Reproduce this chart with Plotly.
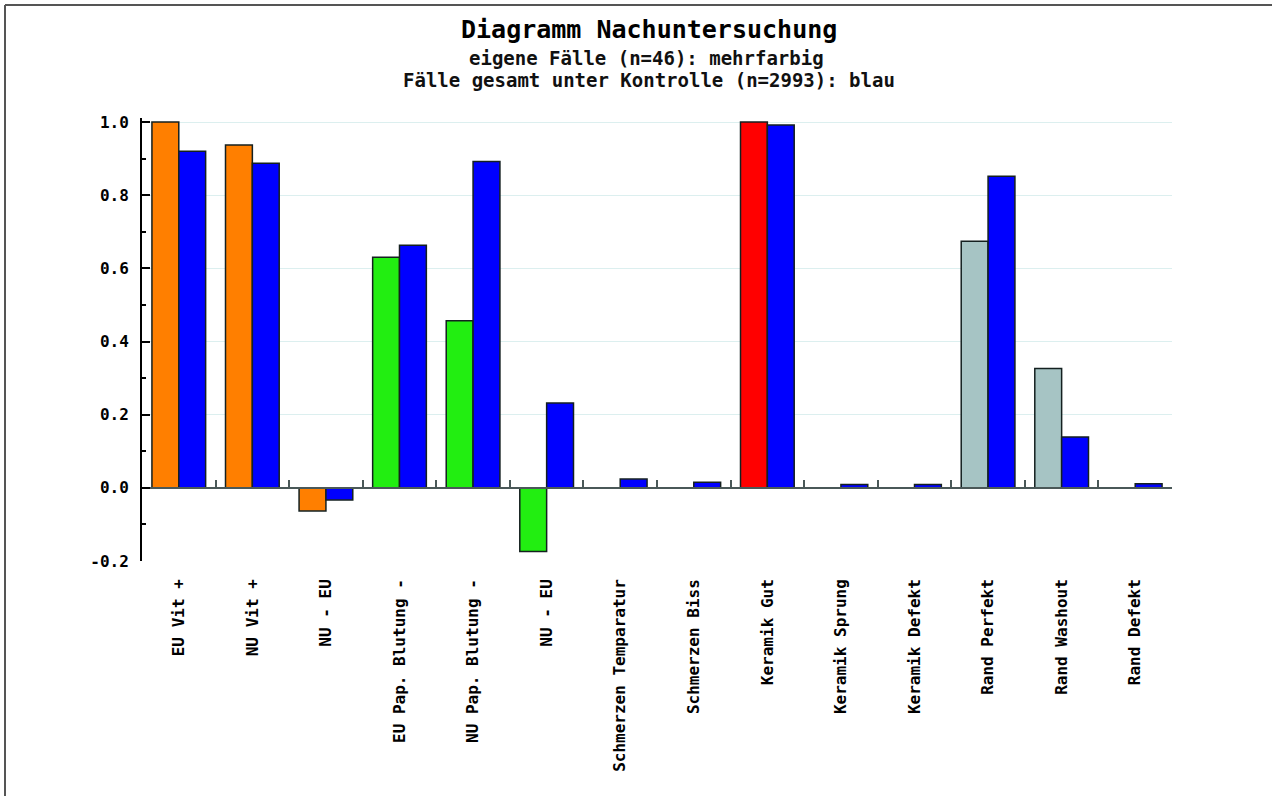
import plotly.graph_objects as go

categories = ["EU Vit +", "NU Vit +", "NU - EU", "EU Pap. Blutung -", "NU Pap. Blutung -",
              "NU - EU", "Schmerzen Temparatur", "Schmerzen Biss", "Keramik Gut",
              "Keramik Sprung", "Keramik Defekt", "Rand Perfekt", "Rand Washout", "Rand Defekt"]
own_values = [1.0, 0.937, -0.063, 0.63, 0.457, -0.174, 0, 0, 1.0, 0, 0, 0.674, 0.326, 0]
total_values = [0.92, 0.887, -0.033, 0.663, 0.892, 0.232, 0.024, 0.015, 0.992, 0.009, 0.009, 0.852, 0.139, 0.011]
own_colors = ["#FF7F00", "#FF7F00", "#FF7F00", "#22EE11", "#22EE11", "#22EE11",
              "#22EE11", "#22EE11", "#FF0000", "#FF0000", "#FF0000", "#A6C4C4", "#A6C4C4", "#A6C4C4"]
y_ticks = [-0.2, 0.0, 0.2, 0.4, 0.6, 0.8, 1.0]
title = "Diagramm Nachuntersuchung"
subtitle1 = "eigene Fälle (n=46): mehrfarbig"
subtitle2 = "Fälle gesamt unter Kontrolle (n=2993): blau"

MONO = "DejaVu Sans Mono"
idx = list(range(len(categories)))
y_lo, y_hi = -0.2, 1.011

# plot area geometry in pixels
L, R, T, B = 142, 100, 118, 235
W, H = 1272, 796
pw, ph = W - L - R, H - T - B


def px_x(p):
    return (p - L) / pw


def px_y(p):
    return (H - B - p) / ph


fig = go.Figure()
fig.add_trace(go.Bar(x=idx, y=own_values, marker=dict(color=own_colors, line=dict(color="#142020", width=1.5)),
                     name="eigene Fälle", showlegend=False, hoverinfo="x+y"))
fig.add_trace(go.Bar(x=idx, y=total_values, marker=dict(color="#0000FF", line=dict(color="#142020", width=1.5)),
                     name="gesamt", showlegend=False, hoverinfo="x+y"))
# helper trace so the zero-line axis is drawn
fig.add_trace(go.Scatter(x=[None], y=[None], xaxis="x2", yaxis="y", showlegend=False, hoverinfo="skip"))

boundaries = [i + 0.5 for i in idx]

fig.update_layout(
    width=W, height=H,
    margin=dict(l=L, r=R, t=T, b=B),
    paper_bgcolor="white", plot_bgcolor="white",
    barmode="group", bargap=0.27, bargroupgap=0,
    xaxis=dict(range=[-0.5, len(categories) - 0.5], tickmode="array", tickvals=idx, ticktext=categories,
               tickangle=-90, showgrid=False, zeroline=False, showline=False, ticks="",
               ticklabelstandoff=14,
               tickfont=dict(family=MONO, size=16, color="black", weight="bold")),
    xaxis2=dict(range=[-0.5, len(categories) - 0.5], overlaying="x", anchor="free",
                position=(0 - y_lo) / (y_hi - y_lo), side="bottom",
                tickmode="array", tickvals=boundaries, showticklabels=False,
                ticks="inside", ticklen=7, tickwidth=2, tickcolor="#4a5858",
                showline=True, linecolor="#4a5858", linewidth=2,
                showgrid=False, zeroline=False),
    yaxis=dict(range=[y_lo, y_hi], tickmode="array", tickvals=y_ticks,
               ticktext=[f"{v:.1f}" for v in y_ticks],
               ticks="inside", ticklen=8, tickwidth=2, tickcolor="black",
               showline=True, linecolor="black", linewidth=2,
               showgrid=True, gridcolor="#dcefef", gridwidth=1, zeroline=False,
               minor=dict(tickmode="array", tickvals=[-0.1, 0.1, 0.3, 0.5, 0.7, 0.9],
                          ticks="inside", ticklen=4, tickwidth=2, tickcolor="black", showgrid=False),
               ticklabelstandoff=8,
               tickfont=dict(family=MONO, size=16, color="black", weight="bold")),
    annotations=[
        dict(text="<b>" + title + "</b>", xref="paper", yref="paper", x=px_x(649), y=px_y(29),
             showarrow=False, xanchor="center", yanchor="middle",
             font=dict(family=MONO, size=25, color="black")),
        dict(text="<b>" + subtitle1 + "</b>", xref="paper", yref="paper", x=px_x(646), y=px_y(58),
             showarrow=False, xanchor="center", yanchor="middle",
             font=dict(family=MONO, size=19, color="#111111")),
        dict(text="<b>" + subtitle2 + "</b>", xref="paper", yref="paper", x=px_x(649), y=px_y(80),
             showarrow=False, xanchor="center", yanchor="middle",
             font=dict(family=MONO, size=19, color="#111111")),
    ],
    shapes=[
        dict(type="line", xref="paper", yref="paper", x0=px_x(5), x1=px_x(1272), y0=px_y(5), y1=px_y(5),
             line=dict(color="#555555", width=2)),
        dict(type="line", xref="paper", yref="paper", x0=px_x(5), x1=px_x(5), y0=px_y(5), y1=px_y(796),
             line=dict(color="#555555", width=2)),
    ],
)

fig.write_html("out.html", config={"displayModeBar": False},
               post_script="document.body.style.margin='0';document.body.style.overflow='hidden';")
